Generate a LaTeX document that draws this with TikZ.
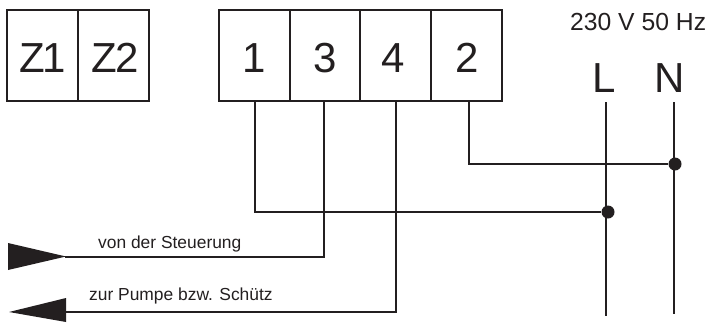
\documentclass[tikz,border=0pt]{standalone}
\usepackage{fontspec}
\setmainfont{Liberation Sans}
\definecolor{ink}{HTML}{231F20}
\tikzset{
  wire/.style={draw=ink,line width=2pt},
  boxline/.style={draw=ink,line width=2pt},
  terminal/.style={boxline,minimum height=91pt,inner sep=0pt,outer sep=0pt},
  joint/.style={circle,fill=ink,minimum size=13pt,inner sep=0pt},
  small/.style={text=ink,font=\fontsize{17.4}{18}\selectfont,anchor=base west,inner sep=0pt},
  mid/.style={text=ink,font=\fontsize{24.7}{25}\selectfont,anchor=base west,inner sep=0pt},
  big/.style={text=ink,font=\fontsize{42}{42}\selectfont,anchor=base,inner sep=0pt},
  tip/.style={fill=ink,draw=none}
}
\begin{document}
\begin{tikzpicture}[x=1pt,y=-1pt]
\useasboundingbox (0,0) rectangle (710,322);
\node[terminal,minimum width=71pt] (z1) at (42.5,55.5) {};
\node[terminal,minimum width=71pt] (z2) at (113.5,55.5) {};
\node[terminal,minimum width=71pt] (t1) at (254.5,55.5) {};
\node[terminal,minimum width=70pt] (t3) at (325,55.5) {};
\node[terminal,minimum width=71pt] (t4) at (395.5,55.5) {};
\node[terminal,minimum width=71pt] (t2) at (466.5,55.5) {};
\node[big] at (42.5,72) {Z\kern-2.5pt 1};
\node[big] at (115,72) {Z\kern-2pt 2};
\node[big] at (254.5,72) {1};
\node[big] at (325,72) {3};
\node[big] at (393.5,72) {4};
\node[big] at (467,72) {2};
\node[mid] (freq) at (570,30) {230 V 50 Hz};
\node[big] (lab) at (604,92) {L};
\node[big] (nab) at (670,92) {N};
\node[small] (von) at (98,248) {von der Steuerung};
\node[small] (zur) at (89,300) {zur Pumpe bzw. Schütz};
\coordinate (ltop) at (606,102);
\coordinate (lbot) at (606,316);
\coordinate (ntop) at (674,102);
\coordinate (nbot) at (674,314);
\node[joint] (jl) at (608,212) {};
\node[joint] (jn) at (675,164) {};
\coordinate (a) at (65,257);
\coordinate (b) at (65,312);
\draw[wire] (ltop) -- (lbot);
\draw[wire] (ntop) -- (nbot);
\draw[wire] (255,101) -- (255,212) -- (jl);
\draw[wire] (469,101) -- (469,164) -- (jn);
\draw[wire] (324,101) -- (324,257) -- (a);
\draw[wire] (396,101) -- (396,312) -- (b);
\fill[tip] (8,243) -- (66,256.5) -- (8,270) -- cycle;
\fill[tip] (9,312) -- (66,298) -- (66,322) -- cycle;
\end{tikzpicture}
\end{document}
